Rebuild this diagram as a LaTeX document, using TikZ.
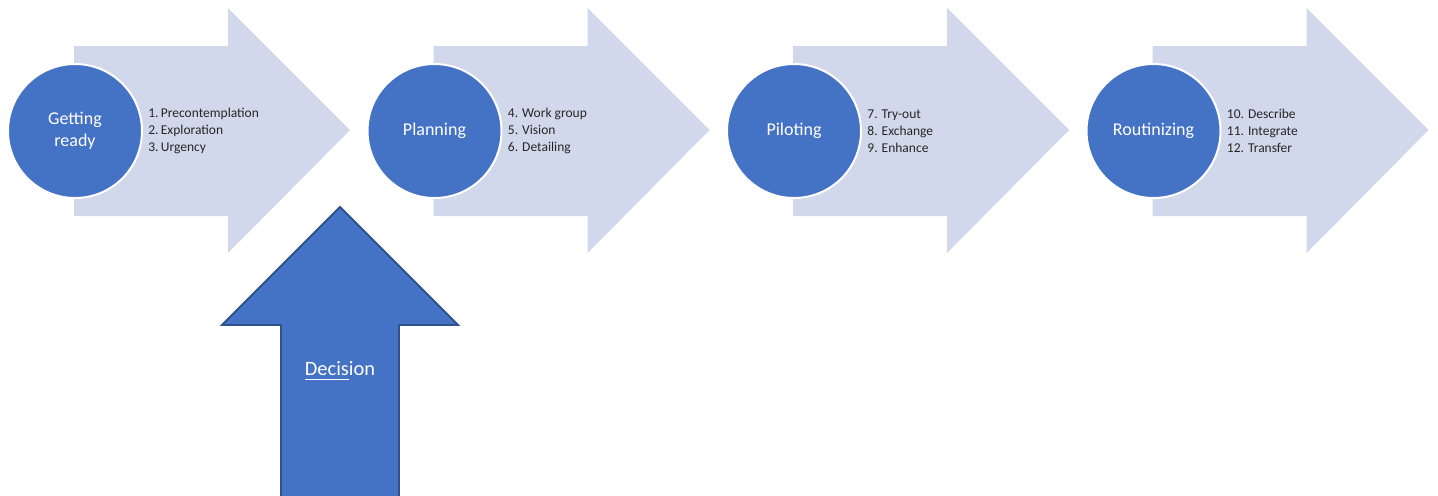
\documentclass[tikz,border=0pt]{standalone}
\usepackage{fontspec}
\setmainfont{Carlito}
\usepackage{tikz}
\usetikzlibrary{positioning}
\definecolor{stageblue}{HTML}{4472C4}
\definecolor{stagepale}{HTML}{D1D8EB}
\definecolor{stageedge}{HTML}{2F528F}
\tikzstyle{phase}=[circle, draw=white, line width=1pt, fill=stageblue,
  minimum size=67pt, inner sep=0pt, text=white, align=center,
  font=\fontsize{9}{10.8}\selectfont]
\tikzstyle{steps}=[align=left, inner sep=0pt, text=black!85,
  font=\fontsize{6.75}{8.4}\selectfont]
\tikzstyle{bigarrow}=[fill=stagepale]

\begin{document}
\begin{tikzpicture}[x=0.5pt, y=-0.5pt, node distance=2.5pt]
\clip (0,0) rectangle (1438,495);
\fill[white] (0,0) rectangle (1438,495);

% pale block arrows behind each phase
\foreach \dx in {0,359.5,719,1078.5}
  \fill[bigarrow, xshift=\dx*0.5pt] (74,46) -- (228,46) -- (228,8) -- (350,130)
    -- (228,253) -- (228,216) -- (74,216) -- cycle;

\node (ready) [phase] at (75,131) {Getting\\ready};
\node (plan) [phase] at (434.5,131) {Planning};
\node (pilot) [phase] at (794,131) {Piloting};
\node (routine) [phase] at (1153.5,131) {Routinizing};

\node (readysteps) [steps, right=of ready] {1.\,Precontemplation\\2.\,Exploration\\3.\,Urgency};
\node (plansteps) [steps, right=of plan] {4. Work group\\5. Vision\\6. Detailing};
\node (pilotsteps) [steps, right=of pilot] {7. Try-out\\8. Exchange\\9. Enhance};
\node (routinesteps) [steps, right=of routine] {10. Describe\\11. Integrate\\12. Transfer};

% decision arrow pointing up between the first two phases
\draw[fill=stageblue, draw=stageedge, line width=0.9pt, line join=miter]
  (281,505) -- (281,325) -- (222,325) -- (340,207) -- (458,325) -- (399,325) -- (399,505) -- cycle;
\node (decision) at (340,371) [text=white, font=\fontsize{10.2}{12}\selectfont] {\underline{Decis}ion};
\end{tikzpicture}
\end{document}
